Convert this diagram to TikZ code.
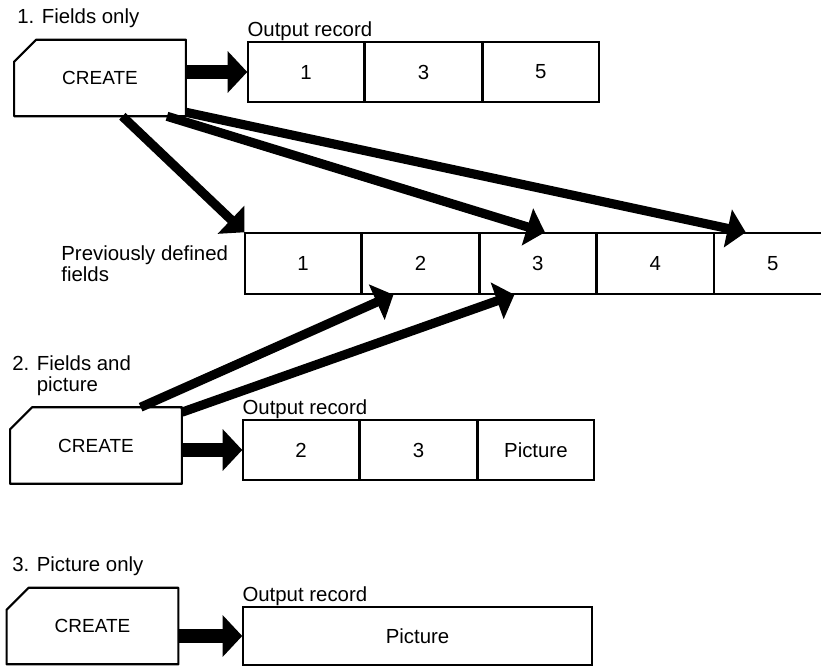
\documentclass[tikz,border=0pt]{standalone}
\usepackage{fontspec}
\setmainfont{Liberation Sans}
\usetikzlibrary{positioning,arrows.meta,calc}

\tikzset{
  lbl/.style={font=\fontsize{14.5}{15}\selectfont, inner sep=0pt},
  card/.style={font=\fontsize{13.5}{15}\selectfont, minimum width=4.28cm, minimum height=1.9cm, inner sep=0pt},
  cardline/.style={line width=1.5pt, line join=round},
  cell/.style={draw, line width=1pt, minimum width=2.9cm, minimum height=1.5cm, inner sep=0pt, font=\fontsize{14.5}{15}\selectfont},
  bigarrow/.style={line width=10pt, -{Triangle[length=14pt,width=29pt]}},
  linkarrow/.style={line width=6.5pt, -{Triangle[length=13pt,width=27pt]}}
}

\begin{document}
\begin{tikzpicture}[x=0.025cm,y=-0.025cm]
  \useasboundingbox (0,0) rectangle (821,668);

  \node[card] (c1) at (100,78) {CREATE};
  \node[card] (c2) at (96,445.5) {CREATE};
  \node[card] (c3) at (92.5,626) {CREATE};

  \node[lbl, anchor=west] (s1) at (17,18) {1. Fields only};
  \node[lbl, anchor=west, align=left] (s2) at (12,376) {2. Fields and\\\phantom{2. }picture};
  \node[lbl, anchor=west] (s3) at (12,566) {3. Picture only};

  \node[cell] (r1a) at (306,72) {1};
  \node[cell, right=0pt of r1a] (r1b) {3};
  \node[cell, right=0pt of r1b] (r1c) {5};
  \node[lbl, above right=0pt and 0pt of r1a.north west] (o1) {Output record};

  \node[cell, minimum height=1.525cm] (f1) at (303,263.5) {1};
  \node[cell, minimum height=1.525cm, right=0pt of f1] (f2) {2};
  \node[cell, minimum height=1.525cm, right=0pt of f2] (f3) {3};
  \node[cell, minimum height=1.525cm, right=0pt of f3] (f4) {4};
  \node[cell, minimum height=1.525cm, right=0pt of f4] (f5) {5};
  \node[lbl, align=left, left=0.4cm of f1] (prev) {Previously defined\\fields};

  \node[cell] (r2a) at (301,450) {2};
  \node[cell, right=0pt of r2a] (r2b) {3};
  \node[cell, right=0pt of r2b] (r2c) {Picture};
  \node[lbl, above right=0pt and 0pt of r2a.north west] (o2) {Output record};

  \node[cell, minimum width=8.725cm, minimum height=1.45cm] (r3) at (417.5,636) {Picture};
  \node[lbl, above right=0pt and 0pt of r3.north west] (o3) {Output record};

  \draw[bigarrow] (c1.east |- r1a.west) -- (r1a.west);
  \draw[bigarrow] (c2.east |- r2a.west) -- (r2a.west);
  \draw[bigarrow] (c3.east |- r3.west) -- (r3.west);

  \draw[linkarrow] ($(c1.south west)!0.63!(c1.south east)$) -- (f1.north west);
  \draw[linkarrow] ($(c1.south west)!0.89!(c1.south east)$) -- ($(f3.north west)!0.56!(f3.north east)$);
  \draw[linkarrow] ($(c1.south east)+(0,-4)$) -- ($(f5.north west)!0.27!(f5.north east)$);
  \draw[linkarrow] ($(c2.north west)!0.76!(c2.north east)$) -- ($(f2.south west)!0.27!(f2.south east)$);
  \draw[linkarrow] ($(c2.north east)+(0,5)$) -- ($(f3.south west)!0.3!(f3.south east)$);

  \foreach \c in {c1,c2,c3}
    \draw[cardline] ($(\c.north west)+(22,0)$) -- (\c.north east) -- (\c.south east)
      -- (\c.south west) -- ($(\c.north west)+(0,22)$) -- cycle;
\end{tikzpicture}
\end{document}
